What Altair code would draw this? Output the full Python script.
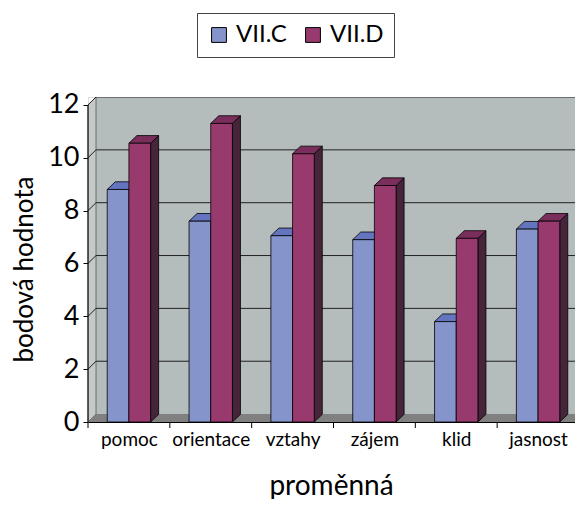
import altair as alt
import pandas as pd

categories = ["pomoc", "orientace", "vztahy", "zájem", "klid", "jasnost"]
vii_c = [8.8, 7.6, 7.05, 6.9, 3.8, 7.3]
vii_d = [10.55, 11.3, 10.15, 8.95, 6.95, 7.6]
series_names = ["VII.C", "VII.D"]
y_ticks = [0, 2, 4, 6, 8, 10, 12]

FONT = "Lato"
CAT_PX = 81.83
W, H = 487, 325
XMAX = W / CAT_PX
YMAX = 12.3
DX = 0.098      # bar depth in category units
DY = 0.29       # bar depth in value units
WDX = 0.098     # wall depth
WDY = 0.30

front_col = {"VII.C": "#8595CB", "VII.D": "#993A6E"}
top_col = {"VII.C": "#6474BE", "VII.D": "#7A2E5C"}
side_col = {"VII.C": "#3E4A7A", "VII.D": "#46253B"}

# ---- bar geometry derived from data ----
fronts, tops, sides = [], [], []
for i, cat in enumerate(categories):
    for s, vals in zip(series_names, [vii_c, vii_d]):
        v = vals[i]
        x0 = i + (0.235 if s == "VII.C" else 0.5)
        x1 = x0 + 0.265
        bid = f"{cat}-{s}"
        fronts.append(dict(cat=cat, series=s, x0=x0, x1=x1, v=v, zero=0.0))
        tops += [
            dict(id=bid, series=s, x=x0, y=v, y2=v),
            dict(id=bid, series=s, x=x0 + DX, y=v, y2=v + DY),
            dict(id=bid, series=s, x=x1, y=v, y2=v + DY),
            dict(id=bid, series=s, x=x1 + DX, y=v + DY, y2=v + DY),
        ]
        sides += [
            dict(id=bid, series=s, x=x1, y=0, y2=v),
            dict(id=bid, series=s, x=x1 + DX, y=DY, y2=v + DY),
        ]
fronts = pd.DataFrame(fronts)
tops = pd.DataFrame(tops)
sides = pd.DataFrame(sides)

xs = alt.Scale(domain=[0, XMAX], nice=False, zero=False)
ys = alt.Scale(domain=[0, YMAX], nice=False, zero=True)

X_AX = alt.Axis(values=[i + 0.5 for i in range(len(categories))],
                labelExpr="[" + ",".join(f"'{c}'" for c in categories) + "][floor(datum.value)]",
                ticks=False, grid=False, domain=True, domainColor="black",
                labelFont=FONT, labelFontSize=19, labelColor="black", labelPadding=8,
                title="proměnná", titleFont=FONT, titleFontSize=28,
                titleFontWeight="normal", titleColor="black",
                titleX=243, titleY=72, titleBaseline="alphabetic", titleAlign="center")
Y_AX = alt.Axis(values=y_ticks, grid=False, domain=False, tickSize=5,
                tickColor="black", labelFont=FONT, labelFontSize=27, labelColor="black",
                labelPadding=4, title="bodová hodnota", titleFont=FONT,
                titleFontSize=26, titleFontWeight="normal", titleColor="black",
                titleX=-56, titleY=172, titleAlign="center", titleBaseline="alphabetic")


def X(f):
    return alt.X(f, scale=xs, axis=X_AX)


def Y(f):
    return alt.Y(f, scale=ys, axis=Y_AX)


# ---- walls ----
back = alt.Chart(pd.DataFrame([{"x": WDX, "x2": XMAX, "y": WDY, "y2": YMAX}])).mark_rect(
    color="#B4BCBC", clip=True
).encode(x=X("x:Q"), x2="x2", y=Y("y:Q"), y2="y2")

left_wall = alt.Chart(pd.DataFrame([
    {"x": 0, "y": 0, "y2": 12}, {"x": WDX, "y": WDY, "y2": 12 + WDY}
])).mark_area(color="#C4CACA", stroke="#555555", strokeWidth=0.8).encode(
    x=X("x:Q"), y=Y("y:Q"), y2="y2")

floor = alt.Chart(pd.DataFrame([
    {"x": 0, "y": 0, "y2": 0}, {"x": WDX, "y": 0, "y2": WDY},
    {"x": XMAX, "y": 0, "y2": WDY}
])).mark_area(color="#808080", clip=True).encode(
    x=X("x:Q"), y=Y("y:Q"), y2="y2")

grid_df = pd.DataFrame({"v": y_ticks[1:]})
grid_df["vb"] = grid_df["v"] + WDY
grid_df["x0"] = WDX
grid_df["x1"] = XMAX
grid_df["xa"] = 0.0
grid = alt.Chart(grid_df).mark_rule(color="#222222", strokeWidth=1, clip=True).encode(
    x=X("x0:Q"), x2="x1", y=Y("vb:Q"))
grid_diag = alt.Chart(grid_df).mark_rule(color="#222222", strokeWidth=1).encode(
    x=X("xa:Q"), x2="x0", y=Y("v:Q"), y2="vb")

# ---- bars ----
color_scale = alt.Scale(domain=series_names, range=[front_col[s] for s in series_names])
top_scale = alt.Scale(domain=series_names, range=[top_col[s] for s in series_names])
side_scale = alt.Scale(domain=series_names, range=[side_col[s] for s in series_names])

side_layer = alt.Chart(sides).mark_area(stroke="black", strokeWidth=0.8).encode(
    x=X("x:Q"), y=Y("y:Q"), y2="y2",
    detail="id:N", fill=alt.Fill("series:N", scale=side_scale, legend=None))
top_layer = alt.Chart(tops).mark_area(stroke="black", strokeWidth=0.8).encode(
    x=X("x:Q"), y=Y("y:Q"), y2="y2",
    detail="id:N", fill=alt.Fill("series:N", scale=top_scale, legend=None))

front_layer = alt.Chart(fronts).mark_rect(stroke="black", strokeWidth=0.8).encode(
    x=X("x0:Q"), x2="x1", y=Y("v:Q"), y2="zero",
    fill=alt.Fill("series:N", scale=color_scale,
                  legend=alt.Legend(title=None, orient="none", direction="horizontal",
                                    legendX=109, legendY=-84, strokeColor="#444444",
                                    padding=10, symbolType="square", symbolSize=220,
                                    symbolStrokeColor="black", symbolStrokeWidth=1,
                                    labelFont=FONT, labelFontSize=24, labelColor="black",
                                    columnPadding=14, labelOffset=5)),
)

# axis line (front) and category boundary ticks
axis_line = alt.Chart(pd.DataFrame([{"x": 0, "y": 0, "y2": 12}])).mark_rule(
    color="black", strokeWidth=1).encode(x=X("x:Q"), y=Y("y:Q"), y2="y2")
bounds = pd.DataFrame({"b": list(range(len(categories) + 1))})
cat_ticks = alt.Chart(bounds).mark_rule(color="black", strokeWidth=1).encode(
    x=X("b:Q"), y=alt.value(H), y2=alt.value(H + 6))

chart = alt.layer(
    back, left_wall, floor, grid, grid_diag, side_layer, top_layer, front_layer, axis_line, cat_ticks
).resolve_scale(fill="independent").properties(
    width=W, height=H,
    autosize=alt.AutoSizeParams(type="none"),
    padding={"left": 80, "top": 89, "right": 0, "bottom": 77},
).configure_view(stroke=None).configure(background="white")

chart.save("out.html", embed_options={"renderer": "svg", "actions": False})
